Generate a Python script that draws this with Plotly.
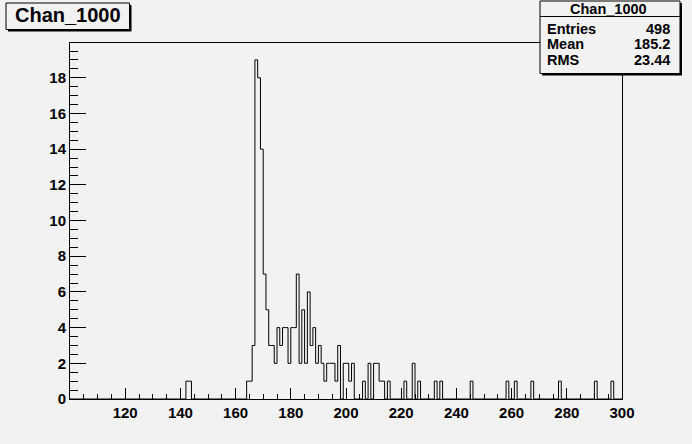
import numpy as np
import plotly.graph_objects as go

# ---------------- data ----------------
hist_title = "Chan_1000"
x_min, x_max, n_bins = 100, 300, 200
# lower edges of the non-empty bins (bin width 1) and their contents
bin_low = [142, 143, 164, 165, 166, 167, 168, 169, 170, 171, 172, 173, 174, 175,
           176, 177, 178, 179, 180, 181, 182, 183, 184, 185, 186, 187, 188, 189,
           190, 191, 192, 193, 194, 195, 196, 197, 199, 200, 201, 202, 206, 208,
           210, 211, 212, 213, 215, 221, 224, 226, 232, 234, 245, 258, 261, 267,
           277, 290, 296]
bin_count = [1, 1, 1, 1, 3, 19, 18, 14, 7, 5, 3, 3, 2, 4,
             3, 4, 4, 2, 4, 4, 7, 2, 5, 2, 6, 3, 4, 2,
             3, 2, 1, 2, 2, 2, 1, 3, 2, 2, 1, 2, 1, 2,
             2, 2, 1, 1, 1, 1, 2, 1, 1, 1, 1, 1, 1, 1,
             1, 1, 1]
stats_labels = ["Entries", "Mean", "RMS"]
stats_values = ["498", "185.2", "23.44"]
x_tick_vals = [120, 140, 160, 180, 200, 220, 240, 260, 280, 300]
x_tick_text = ["120", "140", "160", "180", "200", "220", "240", "260", "280", "300"]
y_tick_vals = [0, 2, 4, 6, 8, 10, 12, 14, 16, 18]
y_tick_text = ["0", "2", "4", "6", "8", "10", "12", "14", "16", "18"]
y_max = 19.95

# ---------------- build histogram ----------------
counts = np.zeros(n_bins)
for lo, c in zip(bin_low, bin_count):
    counts[lo - x_min] = c
edges = np.arange(x_min, x_max + 1)
step_y = np.append(counts, counts[-1])

# ---------------- layout geometry (pixels) ----------------
W, H = 692, 444
L, R, T, B = 70, 622, 43, 399
BG = "#f2f2f2"
FONT = "Liberation Sans, Arial, Helvetica, sans-serif"


def px(x):
    return (x - L) / (R - L)


def py(y):
    return (B - y) / (B - T)


fig = go.Figure()
fig.add_trace(go.Scatter(
    x=edges, y=step_y, mode="lines", line=dict(shape="hv", color="black", width=1),
    hoverinfo="skip", showlegend=False, cliponaxis=False))

shapes = []
annotations = []


def box(x0, y0, x1, y1, shadow=2):
    shapes.append(dict(type="rect", xref="paper", yref="paper",
                       x0=px(x0 + shadow), x1=px(x1 + shadow),
                       y0=py(y0 + shadow), y1=py(y1 + shadow),
                       fillcolor="black", line=dict(width=0), layer="above"))
    shapes.append(dict(type="rect", xref="paper", yref="paper",
                       x0=px(x0), x1=px(x1), y0=py(y0), y1=py(y1),
                       fillcolor=BG, line=dict(color="black", width=1), layer="above"))


# title box
box(6, 3, 129.5, 29.5)
annotations.append(dict(text=hist_title, xref="paper", yref="paper", x=px(68), y=py(15.5),
                        xanchor="center", yanchor="middle", showarrow=False,
                        font=dict(family=FONT, size=20, color="black", weight="bold")))

# stats box
box(540, 1, 680, 73.5)
shapes.append(dict(type="line", xref="paper", yref="paper", x0=px(540), x1=px(680),
                   y0=py(16.5), y1=py(16.5), line=dict(color="black", width=1), layer="above"))
annotations.append(dict(text=hist_title, xref="paper", yref="paper", x=px(608), y=py(9),
                        xanchor="center", yanchor="middle", showarrow=False,
                        font=dict(family=FONT, size=14.5, color="black", weight="bold")))
for i, (lab, val) in enumerate(zip(stats_labels, stats_values)):
    yc = 29.5 + 15 * i
    annotations.append(dict(text=lab, xref="paper", yref="paper", x=px(545), y=py(yc),
                            xanchor="left", yanchor="middle", showarrow=False,
                            font=dict(family=FONT, size=14.5, color="black", weight="bold")))
    annotations.append(dict(text=val, xref="paper", yref="paper", x=px(671.5), y=py(yc),
                            xanchor="right", yanchor="middle", showarrow=False,
                            font=dict(family=FONT, size=14.5, color="black", weight="bold")))

axis_font = dict(family=FONT, size=15, color="black", weight="bold")
fig.update_layout(
    width=W, height=H,
    margin=dict(l=L, r=W - R, t=T, b=H - B, pad=0),
    paper_bgcolor=BG, plot_bgcolor=BG,
    showlegend=False,
    shapes=shapes, annotations=annotations,
    xaxis=dict(range=[x_min, x_max], showgrid=False, zeroline=False, automargin=False,
               showline=True, linecolor="black", linewidth=1, mirror=True,
               ticks="inside", ticklen=11, tickwidth=1, tickcolor="black",
               tickvals=x_tick_vals, ticktext=x_tick_text, tickfont=axis_font,
               minor=dict(dtick=5, tick0=0, ticks="inside", ticklen=5.5,
                          tickcolor="black", tickwidth=1, showgrid=False)),
    yaxis=dict(range=[0, y_max], showgrid=False, zeroline=False, automargin=False,
               showline=True, linecolor="black", linewidth=1, mirror=True,
               ticks="inside", ticklen=16, tickwidth=1, tickcolor="black",
               tickvals=y_tick_vals, ticktext=y_tick_text, tickfont=axis_font,
               minor=dict(dtick=0.5, tick0=0, ticks="inside", ticklen=8,
                          tickcolor="black", tickwidth=1, showgrid=False)),
)

fig.write_html("out.html", config={"displayModeBar": False, "staticPlot": True},
               post_script="document.body.style.margin='0';document.body.style.background='%s';" % BG)
